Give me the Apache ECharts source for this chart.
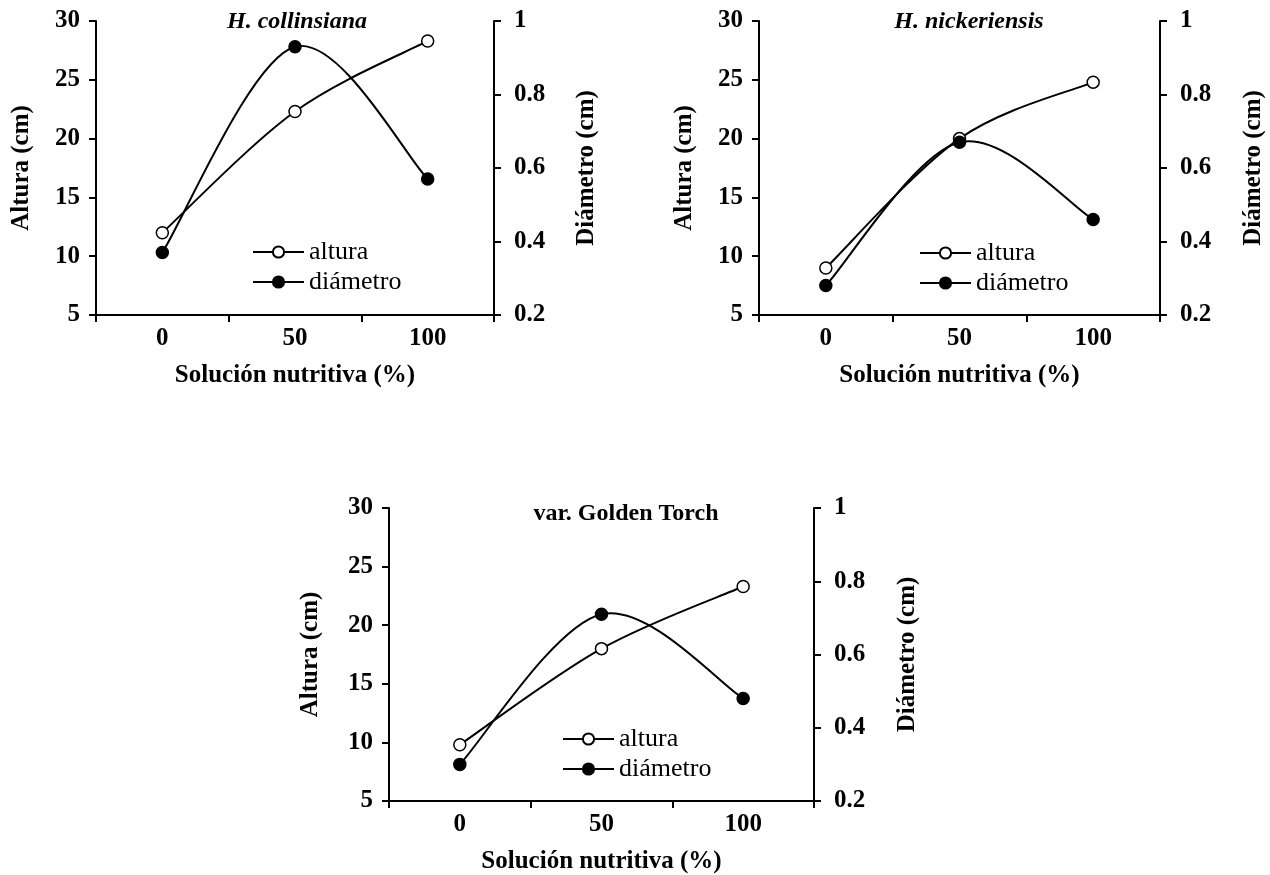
<!DOCTYPE html>
<html>
<head>
<meta charset="utf-8">
<script src="https://cdn.jsdelivr.net/npm/echarts@6/dist/echarts.min.js"></script>
<style>
  html, body { margin: 0; padding: 0; background: #fff; }
  #chart { width: 1270px; height: 875px; }
</style>
</head>
<body>
<div id="chart"></div>
<script>
// Nutrient solution levels (x categories)
const categories = ['0', '50', '100'];

// H. collinsiana
const alturaCollinsiana = [12.0, 22.3, 28.3];
const diametroCollinsiana = [0.37, 0.93, 0.57];

// H. nickeriensis
const alturaNickeriensis = [9.0, 20.0, 24.8];
const diametroNickeriensis = [0.28, 0.67, 0.46];

// var. Golden Torch
const alturaGolden = [9.8, 18.0, 23.3];
const diametroGolden = [0.30, 0.71, 0.48];

// Axis ranges
const alturaRange = { min: 5, max: 30, interval: 5 };
const diametroRange = { min: 0.2, max: 1, interval: 0.2 };

const panelTitles = ['H. collinsiana', 'H. nickeriensis', 'var. Golden Torch'];
const legendNames = ['altura', 'diámetro'];

const FONT = 'Liberation Serif';
const INK = '#000';
const TICK_SIZE = 25;
const NAME_SIZE = 25;

const panels = [
  { grid: { left: 96, top: 21, width: 398, height: 294 }, altura: alturaCollinsiana, diametro: diametroCollinsiana,
    italic: true, leftGap: 62, rightGap: 80, titleX: 292, titleTop: 5,
    legend: { left: 247, top: 234 } },
  { grid: { left: 759, top: 21, width: 401, height: 294 }, altura: alturaNickeriensis, diametro: diametroNickeriensis,
    italic: true, leftGap: 62, rightGap: 81, titleX: 964, titleTop: 5,
    legend: { left: 914, top: 235 } },
  { grid: { left: 389, top: 508, width: 425, height: 294 }, altura: alturaGolden, diametro: diametroGolden,
    italic: false, leftGap: 66, rightGap: 81, titleX: 621, titleTop: 497,
    legend: { left: 557, top: 721 } }
];

// Smooth curve through a series: cubic Bezier segments with Catmull-Rom
// tangents, computed in pixel space from the axis scales.
function smoothCurve(values, xIndex, yIndex) {
  const n = values.length;
  const at = (api, j) => {
    const k = Math.max(0, Math.min(n - 1, j));
    return api.coord([k, values[k]]);
  };
  return {
    type: 'custom', xAxisIndex: xIndex, yAxisIndex: yIndex, silent: true, z: 2,
    data: values.map((v, k) => [k, v]),
    encode: { x: 0, y: 1 },
    renderItem: (params, api) => {
      const k = params.dataIndex;
      if (k >= n - 1) return null;
      const p0 = at(api, k - 1), p1 = at(api, k), p2 = at(api, k + 1), p3 = at(api, k + 2);
      return {
        type: 'bezierCurve',
        shape: {
          x1: p1[0], y1: p1[1], x2: p2[0], y2: p2[1],
          cpx1: p1[0] + (p2[0] - p0[0]) / 6, cpy1: p1[1] + (p2[1] - p0[1]) / 6,
          cpx2: p2[0] - (p3[0] - p1[0]) / 6, cpy2: p2[1] - (p3[1] - p1[1]) / 6
        },
        style: { stroke: INK, lineWidth: 2, fill: 'none' }
      };
    }
  };
}

const grids = [], xAxes = [], yAxes = [], series = [], legends = [], titles = [];

const axisLineStyle = { color: INK, width: 2 };
const tickLabel = { fontFamily: FONT, fontWeight: 'bold', fontSize: TICK_SIZE, color: INK };
const nameStyle = { fontFamily: FONT, fontWeight: 'bold', fontSize: NAME_SIZE, color: INK };

panels.forEach((p, i) => {
  grids.push(p.grid);

  xAxes.push({
    type: 'category', gridIndex: i, data: categories, boundaryGap: true,
    name: 'Solución nutritiva (%)', nameLocation: 'middle', nameGap: 48,
    nameTextStyle: nameStyle,
    axisLine: { lineStyle: axisLineStyle },
    axisTick: { show: true, length: 7, lineStyle: axisLineStyle },
    axisLabel: Object.assign({ margin: 11 }, tickLabel),
    splitLine: { show: false }
  });

  yAxes.push({
    type: 'value', gridIndex: i, position: 'left',
    min: alturaRange.min, max: alturaRange.max, interval: alturaRange.interval,
    name: 'Altura (cm)', nameLocation: 'middle', nameGap: p.leftGap, nameRotate: 90,
    nameTextStyle: nameStyle,
    axisLine: { show: true, lineStyle: axisLineStyle },
    axisTick: { show: true, length: 7, lineStyle: axisLineStyle },
    axisLabel: Object.assign({ margin: 16 }, tickLabel),
    splitLine: { show: false }
  });

  yAxes.push({
    type: 'value', gridIndex: i, position: 'right',
    min: diametroRange.min, max: diametroRange.max, interval: diametroRange.interval,
    name: 'Diámetro (cm)', nameLocation: 'middle', nameGap: p.rightGap, nameRotate: 90,
    nameTextStyle: nameStyle,
    axisLine: { show: true, lineStyle: axisLineStyle },
    axisTick: { show: true, length: 7, lineStyle: axisLineStyle },
    axisLabel: Object.assign({ margin: 20, formatter: v => String(Math.round(v * 10) / 10) }, tickLabel),
    splitLine: { show: false }
  });

  // curves
  series.push(smoothCurve(p.altura, i, i * 2));
  series.push(smoothCurve(p.diametro, i, i * 2 + 1));

  // markers (the connecting line is drawn by the curves above)
  series.push({
    name: legendNames[0], type: 'line', xAxisIndex: i, yAxisIndex: i * 2,
    data: p.altura, symbol: 'circle', symbolSize: 12,
    lineStyle: { color: INK, width: 2, opacity: 0 },
    itemStyle: { color: '#fff', borderColor: INK, borderWidth: 1.5 },
    z: 4
  });
  series.push({
    name: legendNames[1], type: 'line', xAxisIndex: i, yAxisIndex: i * 2 + 1,
    data: p.diametro, symbol: 'circle', symbolSize: 12,
    lineStyle: { color: INK, width: 2, opacity: 0 },
    itemStyle: { color: INK, borderColor: INK, borderWidth: 1.5 },
    z: 5
  });

  legends.push({
    data: legendNames, orient: 'vertical', left: p.legend.left, top: p.legend.top,
    itemWidth: 51, itemHeight: 14, itemGap: 4, selectedMode: false,
    lineStyle: { width: 2, color: INK, opacity: 1 },
    textStyle: { fontFamily: FONT, fontSize: 26, color: INK }
  });

  titles.push({
    text: panelTitles[i],
    left: p.titleX, top: p.titleTop, textAlign: 'center',
    textStyle: { fontFamily: FONT, fontWeight: 'bold', fontStyle: p.italic ? 'italic' : 'normal', fontSize: 24, color: INK }
  });
});

const chart = echarts.init(document.getElementById('chart'), null, { renderer: 'canvas' });
chart.setOption({
  animation: false,
  backgroundColor: '#fff',
  title: titles,
  legend: legends,
  grid: grids,
  xAxis: xAxes,
  yAxis: yAxes,
  series: series
});
</script>
</body>
</html>
